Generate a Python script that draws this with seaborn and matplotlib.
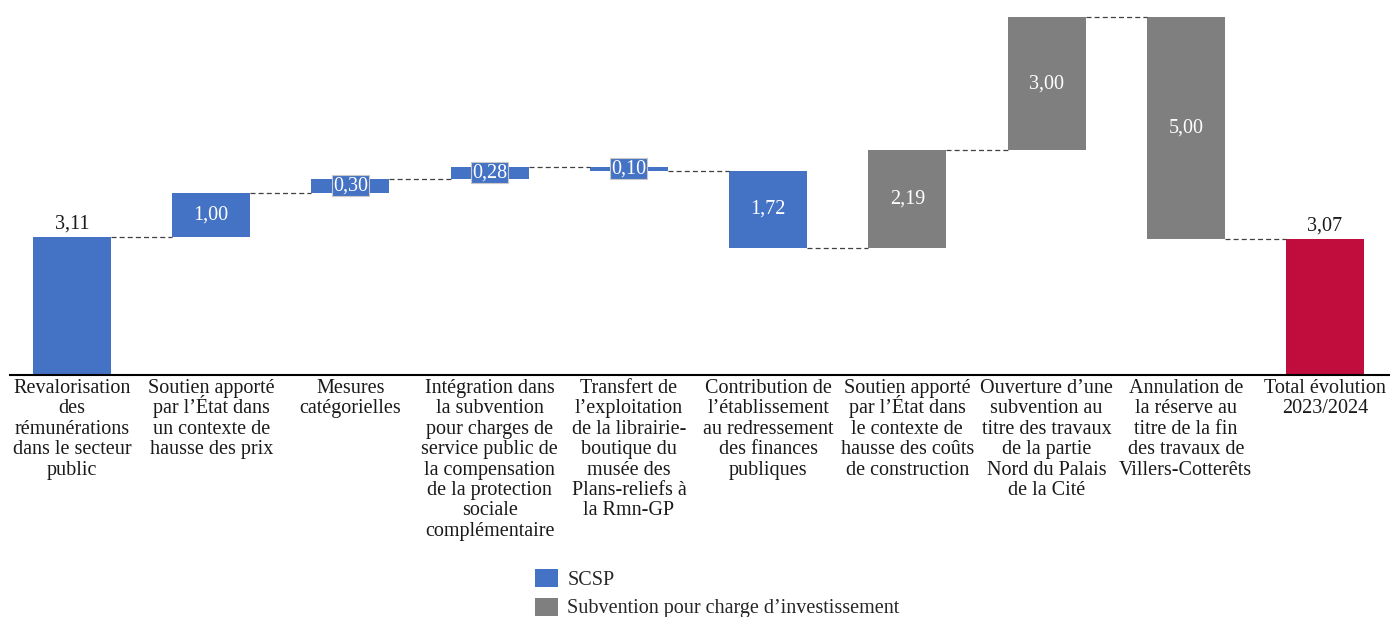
import matplotlib
matplotlib.use("Agg")
import matplotlib.pyplot as plt
import matplotlib.transforms as mtransforms
import seaborn as sns
import pandas as pd
import numpy as np
from matplotlib.patches import Patch

# ---- data ----
categories = [
    "Revalorisation\ndes\nrémunérations\ndans le secteur\npublic",
    "Soutien apporté\npar l’État dans\nun contexte de\nhausse des prix",
    "Mesures\ncatégorielles",
    "Intégration dans\nla subvention\npour charges de\nservice public de\nla compensation\nde la protection\nsociale\ncomplémentaire",
    "Transfert de\nl’exploitation\nde la librairie-\nboutique du\nmusée des\nPlans-reliefs à\nla Rmn-GP",
    "Contribution de\nl’établissement\nau redressement\ndes finances\npubliques",
    "Soutien apporté\npar l’État dans\nle contexte de\nhausse des coûts\nde construction",
    "Ouverture d’une\nsubvention au\ntitre des travaux\nde la partie\nNord du Palais\nde la Cité",
    "Annulation de\nla réserve au\ntitre de la fin\ndes travaux de\nVillers-Cotterêts",
    "Total évolution\n2023/2024",
]
changes = [3.11, 1.00, 0.30, 0.28, -0.10, -1.72, 2.19, 3.00, -5.00]
total = 3.07
kinds = ["SCSP"] * 6 + ["Subvention pour charge d’investissement"] * 3 + ["Total"]
legend_labels = ["SCSP", "Subvention pour charge d’investissement"]

color_map = {"SCSP": "#4472C4",
             "Subvention pour charge d’investissement": "#7F7F7F",
             "Total": "#C00D3D"}

# ---- waterfall geometry from data ----
bottoms, heights, ends = [], [], []
cum = 0.0
for i, c in enumerate(changes):
    bottoms.append(cum if i > 0 else 0.0)
    heights.append(c)
    cum += c
    ends.append(cum)
bottoms.append(0.0); heights.append(total); ends.append(total)
values = changes + [total]

df = pd.DataFrame({"cat": categories, "height": heights, "bottom": bottoms, "kind": kinds})

sns.set_theme(style="white")
plt.rcParams["font.family"] = ["Liberation Serif", "DejaVu Serif"]

DPI = 100
fig = plt.figure(figsize=(13.9, 6.17), dpi=DPI)
ax = fig.add_axes([10/1390, (617-375)/617, 1380/1390, 365/617])

width = 0.56
FS = 14.5
sns.barplot(data=df, x="cat", y="height", order=categories, bottom=df["bottom"].values,
            width=width, color="#4472C4", ax=ax, errorbar=None, linewidth=0)
for patch, k in zip(ax.patches, kinds):
    patch.set_facecolor(color_map[k])
    patch.set_edgecolor("none")

# connectors
for i in range(len(categories) - 1):
    y = ends[i]
    ax.plot([i + width/2, i + 1 - width/2], [y, y], color="#404040",
            linestyle=(0, (4, 2.5)), linewidth=0.9, zorder=3)

# value labels
for i, v in enumerate(values):
    txt = f"{abs(v):.2f}".replace(".", ",")
    if i == 0 or i == len(values) - 1:
        ax.text(i, heights[i] + 0.08, txt, ha="center", va="bottom", fontsize=FS, color="#1a1a1a")
    else:
        mid = bottoms[i] + heights[i] / 2
        if abs(heights[i]) < 0.5:
            ax.text(i, mid, txt, ha="center", va="center", fontsize=FS, color="white",
                    bbox=dict(boxstyle="square,pad=0.05", facecolor=color_map[kinds[i]],
                              edgecolor="#c8c8c8", linewidth=0.8), zorder=4)
        else:
            ax.text(i, mid, txt, ha="center", va="center", fontsize=FS, color="white", zorder=4)

ax.set_xlim(-62/139.2, 9 + 65/139.2)
ax.set_ylim(0, 365/44.4)
ax.set_xlabel("")
ax.set_ylabel("")
ax.set_yticks([])
for s in ["top", "right", "left"]:
    ax.spines[s].set_visible(False)
ax.spines["bottom"].set_color("black")
ax.spines["bottom"].set_linewidth(1.5)
ax.tick_params(axis="x", length=0)
ax.set_xticks(range(len(categories)))
ax.set_xticklabels([""] * len(categories))

# category labels, one text per line for even line spacing
base = ax.get_xaxis_transform()
first_baseline_px = 18.0   # below axis line
line_px = 20.4
for i, lab in enumerate(categories):
    for j, line in enumerate(lab.split("\n")):
        off = -(first_baseline_px + j * line_px) / DPI
        tr = base + mtransforms.ScaledTranslation(0, off, fig.dpi_scale_trans)
        ax.text(i, 0, line, transform=tr, ha="center", va="baseline",
                fontsize=FS, color="#1a1a1a", clip_on=False)

handles = [Patch(facecolor=color_map[l], edgecolor="none") for l in legend_labels]
fig.legend(handles, legend_labels, loc="upper left", bbox_to_anchor=(535/1390, 1 - 569/617),
           frameon=False, fontsize=FS, handlelength=1.15, handleheight=1.0,
           handletextpad=0.45, labelspacing=0.38, borderaxespad=0, borderpad=0)

fig.savefig("out.png", dpi=DPI)
